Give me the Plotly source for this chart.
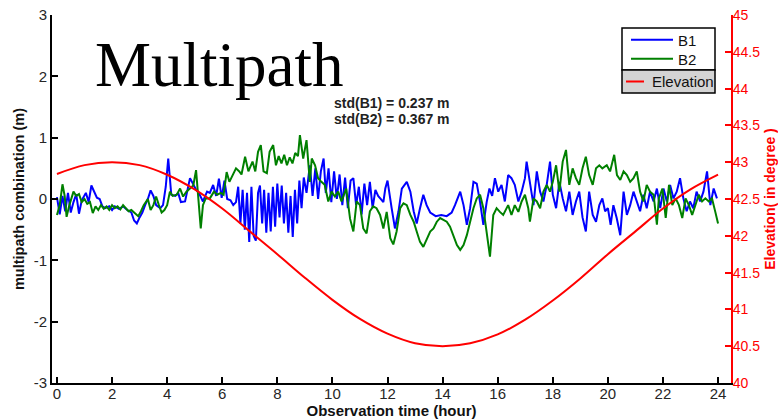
import plotly.graph_objects as go

# Multipath combination on B1 / B2 (m) over one day of observation
hours_b1 = [0.00, 0.10, 0.20, 0.30, 0.40, 0.50, 0.60, 0.70, 0.80, 0.90, 1.05, 1.15, 1.25, 1.35, 1.45,
            1.55, 1.65, 1.75, 1.90, 2.00, 2.10, 2.25, 2.40, 2.55, 2.70, 2.80, 2.90, 3.00, 3.10, 3.20,
            3.30, 3.40, 3.50, 3.60, 3.75, 3.85, 3.95, 4.04, 4.15, 4.30, 4.40, 4.50, 4.65, 4.83, 4.95,
            5.05, 5.15, 5.30, 5.45, 5.55, 5.67, 5.78, 5.88, 5.98, 6.08, 6.18, 6.30, 6.40, 6.50, 6.58,
            6.66, 6.74, 6.82, 6.90, 6.98, 7.06, 7.14, 7.22, 7.30, 7.37, 7.45, 7.52, 7.60, 7.68, 7.76,
            7.84, 7.92, 8.00, 8.08, 8.16, 8.24, 8.32, 8.40, 8.48, 8.56, 8.64, 8.72, 8.80, 8.88, 8.96,
            9.06, 9.18, 9.28, 9.38, 9.48, 9.58, 9.68, 9.76, 9.86, 9.96, 10.06, 10.16, 10.26, 10.36, 10.46,
            10.56, 10.66, 10.76, 10.86, 10.96, 11.06, 11.16, 11.26, 11.36, 11.46, 11.56, 11.66, 11.76, 11.85, 11.92,
            12.00, 12.15, 12.27, 12.40, 12.52, 12.70, 12.83, 12.95, 13.06, 13.18, 13.30, 13.42, 13.55, 13.75, 13.95,
            14.15, 14.33, 14.45, 14.64, 14.76, 14.88, 15.00, 15.12, 15.24, 15.36, 15.48, 15.60, 15.70, 15.80, 15.90,
            16.02, 16.14, 16.26, 16.38, 16.50, 16.62, 16.75, 16.87, 16.99, 17.05, 17.17, 17.30, 17.42, 17.54, 17.66,
            17.78, 17.90, 18.00, 18.12, 18.24, 18.36, 18.48, 18.60, 18.72, 18.84, 18.96, 19.08, 19.20, 19.32, 19.45,
            19.57, 19.69, 19.80, 19.90, 20.00, 20.10, 20.20, 20.32, 20.45, 20.57, 20.69, 20.81, 20.93, 21.05, 21.17,
            21.29, 21.41, 21.53, 21.66, 21.78, 21.90, 22.02, 22.14, 22.26, 22.38, 22.50, 22.62, 22.74, 22.86, 22.98,
            23.10, 23.22, 23.35, 23.47, 23.60, 23.72, 23.84, 23.96]
b1 = [0.03, -0.25, 0.05, -0.20, 0.10, -0.22, -0.05, 0.08, -0.24, -0.02, 0.10, -0.05, 0.22, 0.12, 0.02,
      0.00, -0.12, -0.15, -0.12, -0.18, -0.12, -0.16, -0.12, -0.18, -0.22, -0.35, -0.40, -0.30, -0.22, -0.10,
      0.00, 0.14, 0.05, -0.10, -0.15, -0.10, 0.20, 0.66, 0.07, 0.05, 0.10, -0.05, -0.04, 0.34, 0.23,
      0.15, 0.10, -0.04, 0.12, 0.10, 0.23, 0.05, 0.33, 0.02, 0.30, 0.00, -0.02, -0.10, -0.05, 0.20,
      -0.40, 0.15, -0.50, 0.10, -0.70, 0.20, -0.60, -0.68, 0.10, 0.22, -0.40, 0.15, -0.55, 0.10, -0.53,
      0.20, -0.45, 0.25, -0.30, 0.22, -0.40, 0.10, -0.55, 0.05, -0.62, 0.15, -0.40, 0.30, -0.15, 0.35,
      0.10, 0.55, 0.05, 0.50, 0.00, 0.45, 0.66, 0.10, 0.50, -0.05, 0.45, 0.00, 0.40, -0.10, 0.35,
      -0.15, 0.30, 0.34, -0.10, 0.20, -0.25, 0.25, -0.10, 0.28, -0.15, 0.15, 0.05, 0.00, -0.05, 0.17,
      0.30, -0.15, -0.48, -0.20, 0.17, 0.28, 0.12, -0.20, -0.40, -0.15, 0.07, -0.10, -0.22, -0.28, -0.26,
      -0.28, -0.22, -0.10, 0.12, -0.10, -0.42, -0.15, 0.28, 0.25, -0.05, -0.42, -0.05, 0.17, 0.05, 0.34,
      0.12, 0.23, -0.04, 0.39, 0.34, 0.23, -0.04, 0.12, 0.34, 0.61, 0.28, -0.10, 0.45, 0.12, -0.04,
      0.23, 0.61, 0.07, -0.15, 0.28, 0.01, -0.20, 0.12, -0.26, -0.04, 0.12, -0.30, -0.53, 0.12, -0.26,
      -0.37, -0.10, 0.01, -0.20, -0.15, -0.42, -0.10, -0.31, -0.59, 0.12, -0.26, -0.10, 0.12, -0.04, -0.20,
      0.07, -0.15, 0.12, -0.04, 0.17, -0.15, 0.17, -0.04, 0.23, 0.01, 0.12, 0.34, 0.01, -0.20, -0.04,
      -0.15, 0.12, -0.04, 0.12, 0.45, -0.10, 0.17, 0.01]

hours_b2 = [0.00, 0.10, 0.20, 0.28, 0.35, 0.45, 0.60, 0.70, 0.80, 0.90, 1.00, 1.10, 1.20, 1.30, 1.40,
            1.50, 1.60, 1.70, 1.80, 1.90, 2.00, 2.10, 2.20, 2.30, 2.40, 2.50, 2.60, 2.70, 2.85, 2.95,
            3.05, 3.15, 3.30, 3.40, 3.50, 3.60, 3.70, 3.80, 3.90, 4.00, 4.10, 4.20, 4.35, 4.47, 4.58,
            4.70, 4.83, 4.95, 5.05, 5.15, 5.22, 5.30, 5.40, 5.55, 5.70, 5.82, 5.95, 6.05, 6.16, 6.26,
            6.38, 6.50, 6.62, 6.70, 6.83, 6.95, 7.10, 7.20, 7.30, 7.40, 7.50, 7.62, 7.72, 7.85, 7.95,
            8.05, 8.15, 8.25, 8.35, 8.45, 8.55, 8.65, 8.75, 8.82, 8.94, 9.06, 9.18, 9.25, 9.37, 9.48,
            9.60, 9.72, 9.85, 9.97, 10.09, 10.21, 10.33, 10.50, 10.64, 10.76, 10.88, 11.00, 11.12, 11.24, 11.36,
            11.48, 11.60, 11.73, 11.85, 11.97, 12.10, 12.21, 12.33, 12.46, 12.58, 12.70, 12.83, 12.95, 13.06, 13.18,
            13.30, 13.42, 13.55, 13.67, 13.79, 13.91, 14.03, 14.15, 14.27, 14.40, 14.52, 14.64, 14.76, 14.88, 15.00,
            15.12, 15.24, 15.36, 15.48, 15.60, 15.72, 15.84, 15.96, 16.08, 16.20, 16.38, 16.50, 16.62, 16.75, 16.87,
            16.99, 17.11, 17.17, 17.30, 17.42, 17.54, 17.66, 17.78, 17.90, 18.00, 18.12, 18.24, 18.36, 18.48, 18.60,
            18.72, 18.84, 18.96, 19.08, 19.20, 19.32, 19.45, 19.57, 19.69, 19.80, 19.96, 20.08, 20.23, 20.33, 20.45,
            20.57, 20.69, 20.81, 20.93, 21.05, 21.17, 21.29, 21.41, 21.53, 21.66, 21.78, 21.85, 21.98, 22.10, 22.22,
            22.34, 22.46, 22.58, 22.70, 22.82, 22.94, 23.06, 23.18, 23.30, 23.42, 23.54, 23.66, 23.78, 23.90, 24.00]
b2 = [-0.26, -0.10, 0.24, 0.05, -0.29, -0.10, 0.12, 0.05, 0.08, -0.05, 0.00, -0.08, -0.05, -0.23, -0.12,
      -0.18, -0.10, -0.16, -0.12, -0.18, -0.10, -0.15, -0.12, -0.17, -0.10, -0.16, -0.20, -0.18, -0.25, -0.28,
      -0.20, -0.10, 0.00, -0.18, -0.10, 0.04, -0.10, -0.22, -0.18, -0.10, 0.12, 0.05, 0.07, 0.17, 0.04,
      0.12, 0.17, 0.22, 0.47, -0.15, -0.48, -0.10, 0.01, 0.01, 0.12, 0.07, 0.10, 0.07, 0.44, 0.28,
      0.39, 0.50, 0.45, 0.40, 0.69, 0.45, 0.61, 0.45, 0.77, 0.88, 0.45, 0.42, 0.77, 0.88, 0.55,
      0.70, 0.58, 0.72, 0.55, 0.68, 0.58, 0.75, 0.70, 1.04, 0.66, 0.96, 0.28, 0.66, 0.55, 0.34,
      0.28, 0.23, -0.04, 0.12, 0.04, 0.12, -0.04, 0.17, -0.32, -0.53, -0.04, -0.10, -0.48, -0.56, -0.20,
      -0.12, -0.15, -0.26, -0.48, -0.21, -0.64, -0.74, -0.53, -0.15, -0.07, -0.10, -0.26, -0.37, -0.53, -0.70,
      -0.78, -0.67, -0.53, -0.48, -0.37, -0.31, -0.34, -0.37, -0.45, -0.59, -0.75, -0.83, -0.75, -0.59, -0.37,
      -0.15, 0.01, 0.07, -0.15, -0.53, -0.94, -0.26, -0.15, -0.21, -0.26, -0.10, -0.26, -0.10, -0.21, -0.04,
      0.07, -0.15, -0.37, 0.01, -0.04, -0.15, 0.12, 0.23, 0.12, 0.28, 0.55, 0.12, 0.61, 0.80, 0.23,
      0.50, 0.34, 0.23, 0.50, 0.69, 0.39, 0.23, 0.50, 0.55, 0.50, 0.55, 0.45, 0.72, 0.39, 0.31,
      0.45, 0.39, 0.28, 0.34, 0.45, 0.12, -0.04, 0.23, 0.12, 0.07, -0.42, 0.01, 0.17, -0.31, 0.23,
      -0.10, 0.01, -0.10, -0.31, 0.01, -0.10, -0.26, -0.10, 0.07, -0.04, 0.01, -0.04, 0.01, -0.21, -0.40]

# Satellite elevation (degree), hourly
elev_hours = list(range(25))
elevation = [42.84, 42.96, 43.00, 42.96, 42.83, 42.63, 42.37, 42.06, 41.75, 41.43, 41.13, 40.87, 40.67,
             40.54, 40.50, 40.54, 40.66, 40.86, 41.12, 41.42, 41.75, 42.06, 42.37, 42.63, 42.83]

x_ticks = list(range(0, 25, 2))
y_ticks = [-3, -2, -1, 0, 1, 2, 3]
y_ticktext = ["-3", "-2", "-1", "0", "1", "2", "3"]
elev_ticks = [40, 40.5, 41, 41.5, 42, 42.5, 43, 43.5, 44, 44.5, 45]
std_b1 = 0.237
std_b2 = 0.367

SANS = "Liberation Sans, Arial, sans-serif"
TICK_COLOR = "#262626"
ELEV_COLOR = "#ff0000"

fig = go.Figure()
fig.add_trace(go.Scatter(x=hours_b1, y=b1, name="B1", mode="lines",
                         line=dict(color="#0000ff", width=2), legend="legend"))
fig.add_trace(go.Scatter(x=hours_b2, y=b2, name="B2", mode="lines",
                         line=dict(color="#008000", width=2), legend="legend2"))
fig.add_trace(go.Scatter(x=elev_hours, y=elevation, name="Elevation", mode="lines",
                         line=dict(color=ELEV_COLOR, width=2, shape="spline"),
                         yaxis="y2", showlegend=False))

# plot area in pixels: left 52, right 731, top 15, bottom 383
W, H = 778, 419
L, R, T, B = 52, 731, 15, 383


def px(xp):
    return (xp - L) / (R - L)


def py(yp):
    return (B - yp) / (B - T)


def legend_box(x, y, itemwidth):
    return dict(x=px(x), y=py(y), xanchor="left", yanchor="middle", bgcolor="rgba(0,0,0,0)",
                borderwidth=0, itemwidth=itemwidth, tracegroupgap=0,
                font=dict(size=15, family=SANS, color="#111"))


fig.update_layout(
    width=W, height=H,
    showlegend=True,
    margin=dict(l=L, r=W - R, t=T, b=H - B, pad=0, autoexpand=False),
    paper_bgcolor="white", plot_bgcolor="white",
    font=dict(family=SANS, color=TICK_COLOR),
    xaxis=dict(range=[-0.18, 24.47], tickvals=x_ticks, ticks="inside", ticklen=6, tickwidth=2,
               tickcolor="black", showline=True, linecolor="black", linewidth=2, automargin=False,
               showgrid=False, zeroline=False, tickfont=dict(size=15, color=TICK_COLOR),
               ticklabelstandoff=-4,
               title=dict(text="<b>Observation time (hour)</b>", font=dict(size=15, color="#111"),
                          standoff=3)),
    yaxis=dict(range=[-3, 3], tickvals=y_ticks, ticktext=y_ticktext, ticks="inside", ticklen=6,
               tickwidth=2, automargin=False,
               tickcolor="black", showline=True, linecolor="black", linewidth=2,
               showgrid=False, zeroline=False, tickfont=dict(size=15, color=TICK_COLOR),
               title=dict(text="<b>multipath combination (m)</b>", font=dict(size=14.5, color="#111"),
                          standoff=6)),
    yaxis2=dict(range=[40, 45], tickvals=elev_ticks, overlaying="y", side="right",
                ticks="inside", ticklen=6, tickwidth=2, tickcolor=ELEV_COLOR, automargin=False,
                showline=True, linecolor=ELEV_COLOR, linewidth=2, showgrid=False, zeroline=False,
                tickfont=dict(size=14, color=ELEV_COLOR), ticklabelstandoff=-3,
                title=dict(text="<b>Elevation( in degree )</b>", font=dict(size=14, color=ELEV_COLOR),
                           standoff=9)),
    legend=legend_box(626, 40, 42),
    legend2=legend_box(626, 59, 42),
    shapes=[
        # legend frame: upper part for B1/B2, shaded lower part for the elevation key
        dict(type="rect", xref="paper", yref="paper", x0=px(622), x1=px(715), y0=py(70), y1=py(28),
             line=dict(color="black", width=1.5), fillcolor="white", layer="below"),
        dict(type="rect", xref="paper", yref="paper", x0=px(622), x1=px(715), y0=py(93), y1=py(70),
             line=dict(color="black", width=1.5), fillcolor="#d4d4d4", layer="below"),
        dict(type="line", xref="paper", yref="paper", x0=px(626), x1=px(644), y0=py(81.5), y1=py(81.5),
             line=dict(color=ELEV_COLOR, width=2)),
    ],
    annotations=[
        dict(text="Elevation", xref="paper", yref="paper", x=px(650), y=py(81.5),
             xanchor="left", yanchor="middle", showarrow=False,
             font=dict(size=15, family=SANS, color="#111")),
        dict(text="Multipath", xref="paper", yref="paper", x=px(93), y=py(65),
             xanchor="left", yanchor="middle", showarrow=False,
             font=dict(family="Liberation Serif, Times New Roman, serif", size=63, color="black")),
        dict(text=f"<b>std(B1) = {std_b1:.3f} m</b>",
             xref="paper", yref="paper", x=px(392), y=py(103), xanchor="center", yanchor="middle",
             showarrow=False, font=dict(size=14, color="#222")),
        dict(text=f"<b>std(B2) = {std_b2:.3f} m</b>",
             xref="paper", yref="paper", x=px(392), y=py(118.5), xanchor="center", yanchor="middle",
             showarrow=False, font=dict(size=14, color="#222")),
    ],
)

fig.write_html("out.html")
